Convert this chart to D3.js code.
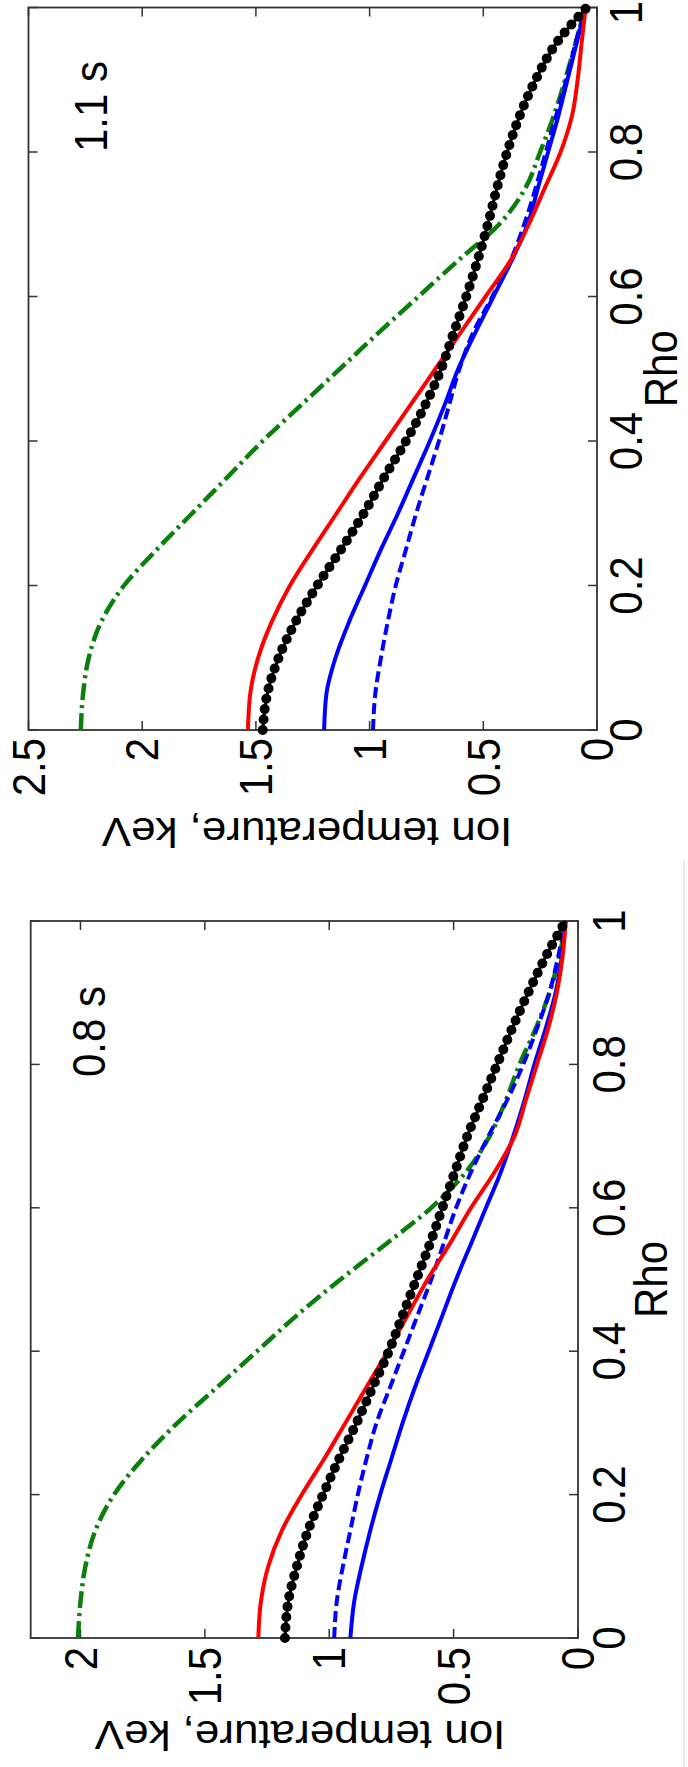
<!DOCTYPE html>
<html><head><meta charset="utf-8">
<script src="https://cdn.jsdelivr.net/npm/d3@7"></script>
<style>html,body{margin:0;padding:0;background:#fff;} svg{display:block;}</style>
</head><body>
<svg id="chart" width="688" height="1767"></svg>
<script>
// ---------- data ----------
const rho = [0,0.05,0.1,0.15,0.2,0.25,0.3,0.35,0.4,0.45,0.5,0.55,0.6,0.65,0.7,0.75,0.8,0.85,0.9,0.95,1.0];
const rhoTicks = [0,0.2,0.4,0.6,0.8,1];
const tempTicksLeft = [0,0.5,1,1.5,2];
const tempTicksRight = [0,0.5,1,1.5,2,2.5];
const panelTitles = ["0.8 s","1.1 s"];
const xLabel = "Rho";
const yLabel = "Ion temperature, keV";

// 0.8 s panel
const green08    = [2.01,2.0,1.98,1.94,1.865,1.75,1.61,1.45,1.29,1.13,0.955,0.77,0.59,0.45,0.355,0.29,0.235,0.17,0.115,0.075,0.05];
const blueDash08 = [0.98,0.97,0.945,0.915,0.885,0.85,0.81,0.755,0.70,0.645,0.59,0.54,0.49,0.43,0.36,0.285,0.22,0.165,0.115,0.08,0.05];
const blue08     = [0.915,0.90,0.87,0.835,0.795,0.75,0.705,0.655,0.60,0.545,0.49,0.43,0.37,0.31,0.26,0.215,0.175,0.13,0.09,0.065,0.05];
const red08      = [1.285,1.275,1.245,1.19,1.11,1.02,0.935,0.85,0.765,0.685,0.605,0.515,0.43,0.335,0.255,0.21,0.165,0.12,0.085,0.062,0.05];
const black08    = [1.178,1.165,1.13,1.085,1.025,0.96,0.89,0.825,0.76,0.705,0.65,0.595,0.545,0.495,0.445,0.385,0.325,0.265,0.20,0.13,0.05];

// 1.1 s panel
const green11    = [2.27,2.26,2.235,2.18,2.08,1.935,1.78,1.625,1.47,1.30,1.13,0.96,0.785,0.61,0.43,0.315,0.25,0.19,0.14,0.095,0.05];
const blueDash11 = [0.985,0.975,0.95,0.92,0.885,0.84,0.795,0.745,0.695,0.65,0.605,0.545,0.46,0.38,0.32,0.27,0.225,0.18,0.135,0.095,0.05];
const blue11     = [1.2,1.19,1.15,1.09,1.02,0.95,0.875,0.805,0.735,0.67,0.61,0.535,0.455,0.375,0.305,0.26,0.215,0.17,0.13,0.09,0.05];
const red11      = [1.535,1.525,1.49,1.43,1.35,1.25,1.145,1.04,0.93,0.82,0.71,0.60,0.49,0.38,0.30,0.23,0.16,0.11,0.085,0.068,0.05];
const black11    = [1.47,1.45,1.40,1.325,1.23,1.125,1.025,0.935,0.84,0.755,0.685,0.63,0.575,0.525,0.48,0.44,0.395,0.34,0.27,0.18,0.045];

// ---------- drawing ----------
const W = 688, H = 1767;
const SY = 1.1;
const FONT = "'Liberation Sans', Arial, Helvetica, sans-serif";
const AXC = "#333";

const svg = d3.select("#chart");
svg.append("rect").attr("width", W).attr("height", H).attr("fill", "#fff");
// figure drawn in landscape frame, then rotated 90° counter-clockwise
const root = svg.append("g").attr("transform", `translate(0,${H}) rotate(-90)`);

root.append("line").attr("x1", 0).attr("x2", 907).attr("y1", 684).attr("y2", 684)
  .attr("stroke", "#e4e4e4").attr("stroke-width", 1.5);

function txt(g, x, y, s, size, anchor, baseline, rot) {
  g.append("text")
    .attr("transform", `translate(${x},${y}) scale(1,${SY})` + (rot ? " rotate(-90)" : ""))
    .attr("text-anchor", anchor)
    .attr("dominant-baseline", baseline)
    .attr("font-family", FONT)
    .attr("font-size", size)
    .attr("fill", "#000")
    .text(s);
}

const panels = [
  { title: panelTitles[0], x0: 129, x1: 846, yTop: 30.7, yBot: 578, tMax: 2.2, tTicks: tempTicksLeft,
    series: { green: green08, blueDash: blueDash08, blue: blue08, red: red08, black: black08 },
    tLabelX: 120, rLabelTop: 592, rhoBase: 667, yLabBase: 46, yLabCenter: 300, titleX: 690, titleY: 105, lastShift: 0 },
  { title: panelTitles[1], x0: 1037, x1: 1759.5, yTop: 28.5, yBot: 597, tMax: 2.5, tTicks: tempTicksRight,
    series: { green: green11, blueDash: blueDash11, blue: blue11, red: red11, black: black11 },
    tLabelX: 1029, rLabelTop: 609, rhoBase: 677, yLabBase: 949, yLabCenter: 307, titleX: 1615, titleY: 107, lastShift: -5 }
];

const styles = {
  green:    { color: "#0b7f0b", width: 4.5, dash: "17,5,3,5" },
  blueDash: { color: "#0000ff", width: 4,   dash: "11,5" },
  blue:     { color: "#0000ff", width: 4,   dash: null },
  red:      { color: "#ff0000", width: 4,   dash: null }
};

panels.forEach(p => {
  const g = root.append("g");
  const x = d3.scaleLinear().domain([0, 1]).range([p.x0, p.x1]);
  const y = d3.scaleLinear().domain([0, p.tMax]).range([p.yBot, p.yTop]);
  const tl = 9;

  g.append("rect").attr("x", p.x0).attr("y", p.yTop)
    .attr("width", p.x1 - p.x0).attr("height", p.yBot - p.yTop)
    .attr("fill", "#fff").attr("stroke", AXC).attr("stroke-width", 1.8);

  rhoTicks.forEach(r => {
    const xx = x(r);
    g.append("line").attr("x1", xx).attr("x2", xx).attr("y1", p.yBot).attr("y2", p.yBot - tl).attr("stroke", AXC).attr("stroke-width", 1.5);
    g.append("line").attr("x1", xx).attr("x2", xx).attr("y1", p.yTop).attr("y2", p.yTop + tl).attr("stroke", AXC).attr("stroke-width", 1.5);
    txt(g, xx + (r === 1 ? p.lastShift : 0), p.rLabelTop, String(r), 42, "middle", "hanging", false);
  });
  p.tTicks.forEach(t => {
    const yy = y(t);
    g.append("line").attr("x1", p.x0).attr("x2", p.x0 + tl).attr("y1", yy).attr("y2", yy).attr("stroke", AXC).attr("stroke-width", 1.5);
    g.append("line").attr("x1", p.x1).attr("x2", p.x1 - tl).attr("y1", yy).attr("y2", yy).attr("stroke", AXC).attr("stroke-width", 1.5);
    txt(g, p.tLabelX, yy, String(t), 42, "end", "central", false);
  });

  txt(g, (p.x0 + p.x1) / 2, p.rhoBase, xLabel, 42, "middle", "alphabetic", false);
  txt(g, p.yLabBase, p.yLabCenter, yLabel, 40, "middle", "alphabetic", true);
  txt(g, p.titleX, p.titleY, p.title, 42, "start", "alphabetic", false);

  const line = d3.line().x((d, i) => x(rho[i])).y(d => y(d)).curve(d3.curveMonotoneX);

  ["green", "blueDash", "blue", "red"].forEach(k => {
    const s = styles[k];
    g.append("path").datum(p.series[k]).attr("d", line)
      .attr("fill", "none").attr("stroke", s.color).attr("stroke-width", s.width)
      .attr("stroke-dasharray", s.dash).attr("stroke-linejoin", "round");
  });
  g.append("path").datum(p.series.black).attr("d", line)
    .attr("fill", "none").attr("stroke", "#000").attr("stroke-width", 3);
  g.append("path").datum(p.series.black).attr("d", line)
    .attr("fill", "none").attr("stroke", "#000").attr("stroke-width", 10)
    .attr("stroke-linecap", "round").attr("stroke-dasharray", "0,10.5");
});
</script>
</body></html>
